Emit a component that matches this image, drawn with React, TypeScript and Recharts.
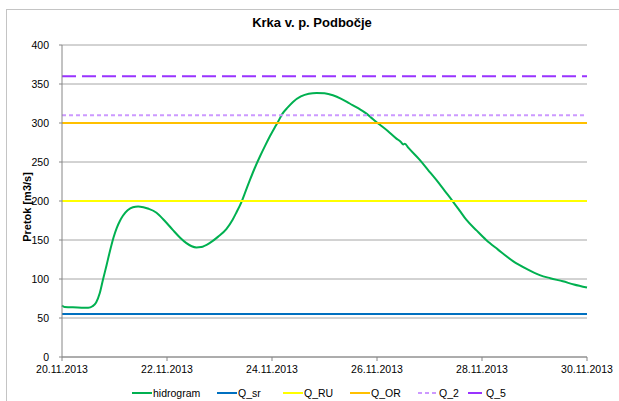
import { CartesianGrid, Line, LineChart, XAxis, YAxis } from "recharts";

// time since 20.11.2013 00:00, in days
const dayOffsets = [
  0, 0.05, 0.3, 0.5, 0.58, 0.65, 0.72, 0.78, 0.85, 0.91, 0.98, 1.04, 1.1, 1.16, 1.25, 1.35, 1.45,
  1.55, 1.65, 1.8, 1.95, 2.11, 2.25, 2.37, 2.47, 2.56, 2.65, 2.81, 2.97, 3.13, 3.25, 3.32, 3.42,
  3.5, 3.58, 3.67, 3.77, 3.87, 3.96, 4.05, 4.11, 4.2, 4.3, 4.4, 4.55, 4.7, 4.85, 5.0, 5.16, 5.32,
  5.48, 5.64, 5.8, 5.92, 6.05, 6.2, 6.37, 6.45, 6.5, 6.53, 6.6, 6.81, 6.97, 7.13, 7.29, 7.45,
  7.57, 7.7, 7.9, 8.08, 8.3, 8.59, 8.85, 9.1, 9.3, 9.54, 9.75, 10.0,
];

const hidrogram = [
  66, 64, 63.5, 63, 65, 70, 82, 99, 118, 135, 153, 165, 174, 181, 188, 192, 193,
  192, 190, 185, 175, 163, 153, 146, 142, 140.5, 141, 146, 154, 164, 176, 185, 199,
  213, 227, 242, 257, 271, 283, 294, 301, 312, 320, 327, 334, 337.5, 338.5, 338, 335.5, 331,
  325, 319, 312, 305, 298, 290, 280, 276, 272.5, 273.5, 268, 253, 240, 227, 213, 199,
  188, 176, 162, 150, 138, 123, 113, 105, 101, 97, 93, 89,
];

const qSr = 55;
const qRu = 200;
const qOr = 300;
const q2 = 310;
const q5 = 360;

const xTickDays = [0, 2, 4, 6, 8, 10];
const xTickLabels = ["20.11.2013", "22.11.2013", "24.11.2013", "26.11.2013", "28.11.2013", "30.11.2013"];
const yTicks = [0, 50, 100, 150, 200, 250, 300, 350, 400];

const data = dayOffsets.map((day, i) => ({
  day,
  hidrogram: hidrogram[i],
  Q_sr: qSr,
  Q_RU: qRu,
  Q_OR: qOr,
  Q_2: q2,
  Q_5: q5,
}));

const FONT = "'Liberation Sans', Arial, sans-serif";

const series = [
  { key: "hidrogram", color: "#00B050", dash: undefined, legendDash: undefined, type: "monotone" },
  { key: "Q_sr", color: "#0070C0", dash: undefined, legendDash: undefined, type: "linear" },
  { key: "Q_RU", color: "#FFFF00", dash: undefined, legendDash: undefined, type: "linear" },
  { key: "Q_OR", color: "#FFC000", dash: undefined, legendDash: undefined, type: "linear" },
  { key: "Q_2", color: "#CC99FF", dash: "4 3", legendDash: "4 3", type: "linear" },
  { key: "Q_5", color: "#9933FF", dash: "14 6", legendDash: "0 3 14 3", type: "linear" },
] as const;

const legendLeft = [132, 217, 283, 350, 418, 465];

export default function App() {
  return (
    <div style={{ position: "relative", width: 619, height: 401, overflow: "hidden", background: "#fff", fontFamily: FONT }}>
      <style>{"body{margin:0}"}</style>
      <div
        style={{
          position: "absolute",
          left: 6,
          top: 9,
          width: 700,
          height: 500,
          border: "1px solid #c4c4c4",
        }}
      />
      <div
        style={{
          position: "absolute",
          left: 212,
          width: 200,
          top: 15,
          textAlign: "center",
          fontWeight: "bold",
          fontSize: 13,
          color: "#000",
        }}
      >
        Krka v. p. Podbočje
      </div>
      <div
        style={{
          position: "absolute",
          left: 27,
          top: 207,
          transform: "translate(-50%, -50%) rotate(-90deg)",
          fontWeight: "bold",
          fontSize: 11,
          whiteSpace: "nowrap",
          color: "#000",
        }}
      >
        Pretok [m3/s]
      </div>
      <div style={{ position: "absolute", left: 0, top: 0 }}>
        <LineChart width={619} height={401} data={data} margin={{ top: 45, right: 32, left: 0, bottom: 14 }}>
          <CartesianGrid vertical={false} stroke="#a6a6a6" />
          <XAxis
            dataKey="day"
            type="number"
            domain={[0, 10]}
            ticks={xTickDays}
            tickFormatter={(v: number) => xTickLabels[xTickDays.indexOf(v)] ?? ""}
            height={30}
            stroke="#868686"
            tickSize={4}
            tickMargin={5}
            tick={{ fill: "#000", fontSize: 10.5, fontFamily: FONT }}
            interval={0}
          />
          <YAxis
            type="number"
            domain={[0, 400]}
            ticks={yTicks}
            width={62}
            stroke="#868686"
            tickSize={3}
            tickMargin={10}
            tick={{ fill: "#000", fontSize: 10.5, fontFamily: FONT }}
            interval={0}
          />
          {series.map((s) => (
            <Line
              key={s.key}
              dataKey={s.key}
              type={s.type}
              stroke={s.color}
              strokeWidth={2}
              strokeDasharray={s.dash}
              dot={false}
              activeDot={false}
              isAnimationActive={false}
            />
          ))}
        </LineChart>
      </div>
      {series.map((s, i) => (
        <div
          key={s.key}
          style={{
            position: "absolute",
            left: legendLeft[i],
            top: 387,
            display: "flex",
            alignItems: "center",
            fontSize: 10.5,
            color: "#000",
            whiteSpace: "nowrap",
          }}
        >
          <svg width={20} height={12} style={{ marginRight: 1 }}>
            <line x1={0} y1={6} x2={20} y2={6} stroke={s.color} strokeWidth={2} strokeDasharray={s.legendDash} />
          </svg>
          <span>{s.key}</span>
        </div>
      ))}
    </div>
  );
}
